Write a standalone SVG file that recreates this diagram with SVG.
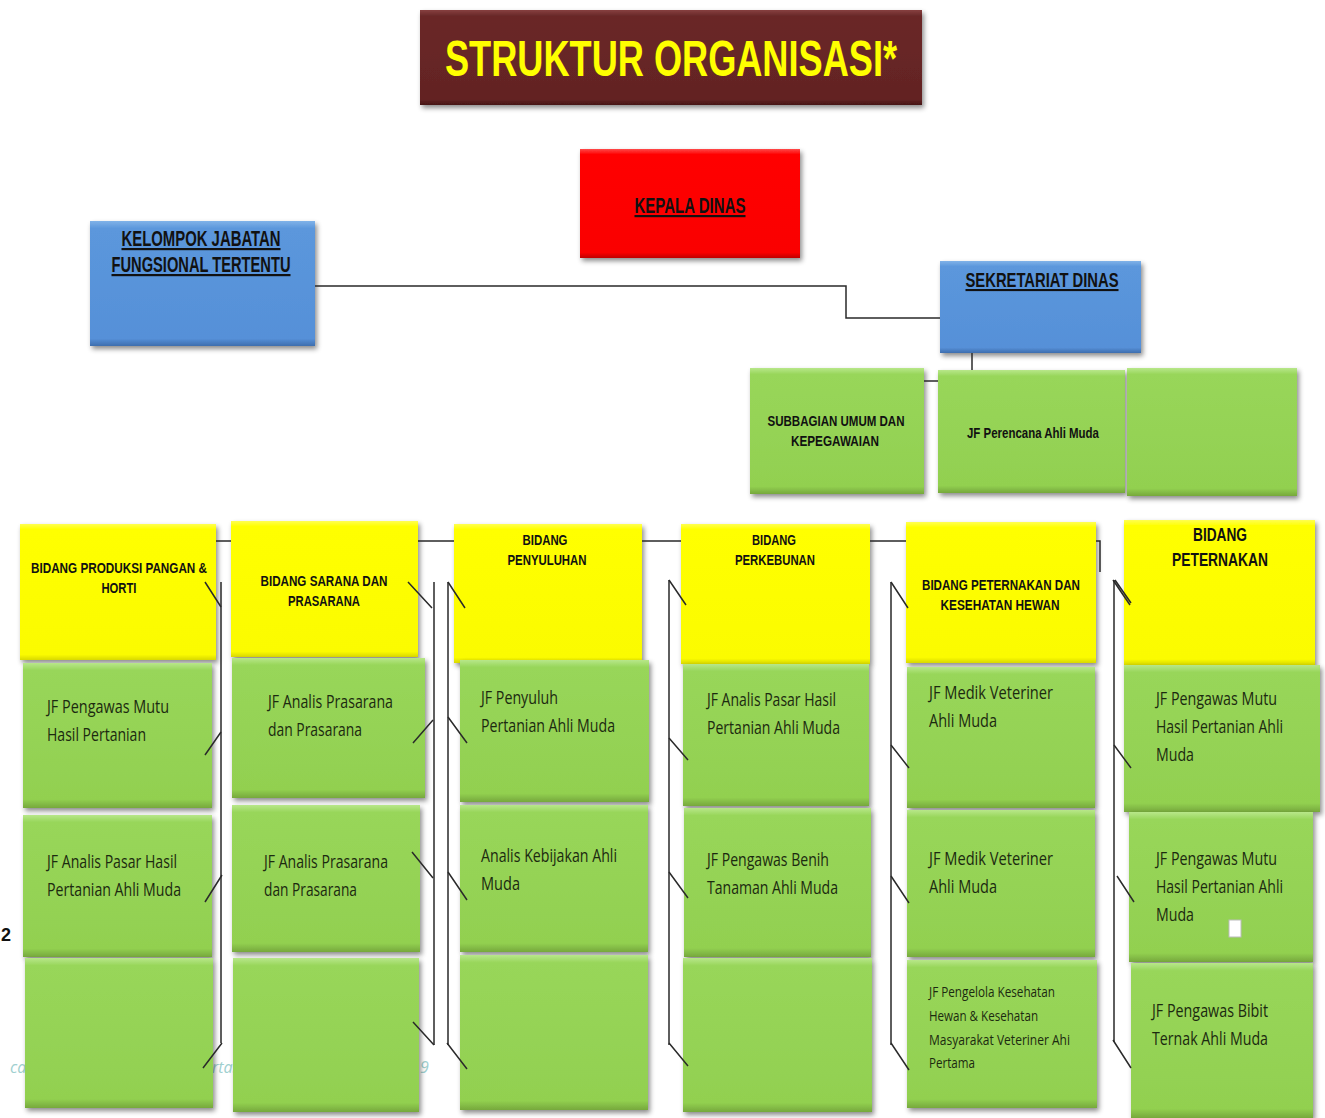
<svg xmlns="http://www.w3.org/2000/svg" width="1325" height="1118" viewBox="0 0 1325 1118">
<defs>
<filter id="sh" x="-10%" y="-10%" width="125%" height="125%">
<feDropShadow dx="2" dy="3" stdDeviation="2.5" flood-color="#000" flood-opacity="0.45"/>
</filter>
<linearGradient id="gG" x1="0" y1="0" x2="0" y2="1">
<stop offset="0" stop-color="#b8e78a"/><stop offset="0.05" stop-color="#98d65a"/><stop offset="0.94" stop-color="#92d050"/><stop offset="1" stop-color="#76a83c"/>
</linearGradient>
<linearGradient id="gY" x1="0" y1="0" x2="0" y2="1">
<stop offset="0" stop-color="#ffff50"/><stop offset="0.04" stop-color="#ffff00"/><stop offset="0.96" stop-color="#fbfb00"/><stop offset="1" stop-color="#d8d800"/>
</linearGradient>
<linearGradient id="gB" x1="0" y1="0" x2="0" y2="1">
<stop offset="0" stop-color="#80b2e8"/><stop offset="0.06" stop-color="#5b97dc"/><stop offset="0.94" stop-color="#5690d8"/><stop offset="1" stop-color="#3e6eae"/>
</linearGradient>
<linearGradient id="gR" x1="0" y1="0" x2="0" y2="1">
<stop offset="0" stop-color="#ff4a4a"/><stop offset="0.05" stop-color="#ff0000"/><stop offset="0.95" stop-color="#fa0000"/><stop offset="1" stop-color="#c00000"/>
</linearGradient>
<linearGradient id="gT" x1="0" y1="0" x2="0" y2="1">
<stop offset="0" stop-color="#874040"/><stop offset="0.06" stop-color="#6a2828"/><stop offset="0.94" stop-color="#632323"/><stop offset="1" stop-color="#451616"/>
</linearGradient>
<style>
.g{fill:url(#gG);filter:url(#sh)}
.y{fill:url(#gY);filter:url(#sh)}
.b{fill:url(#gB);filter:url(#sh)}
.r{fill:url(#gR);filter:url(#sh)}
.t{fill:url(#gT);filter:url(#sh)}
.hd{font-family:"Liberation Sans Narrow","Liberation Sans",Arial,sans-serif;font-weight:bold;fill:#111;text-anchor:middle}
.ul{text-decoration:underline}
.bt{font-family:"Open Sans","Liberation Sans",Arial,sans-serif;fill:#1c2a10;font-size:18px}
.sm{font-size:15px}
.cn{fill:none;stroke:#2a2a2a;stroke-width:1.5}
.tk{stroke:#2a2a2a;stroke-width:1.5}
.wm{font-family:"Open Sans","Liberation Sans",sans-serif;font-style:italic;font-size:16px;fill:#9fd0d0}
</style>
</defs>
<rect width="1325" height="1118" fill="#ffffff"/>

<g id="fragments">
<text class="wm" x="10" y="1073">ca</text>
<text class="wm" x="212" y="1073">rtas</text>
<text class="wm" x="420" y="1073">9</text>
<text x="1" y="941" font-family="Liberation Sans,Arial,sans-serif" font-weight="bold" font-size="18" fill="#111">2</text>
</g>

<g id="title">
<rect class="t" x="420" y="10" width="502" height="95"/>
<text x="671" y="76" font-family="Liberation Sans Narrow,Liberation Sans,Arial,sans-serif" font-weight="bold" font-size="50" fill="#ffff00" text-anchor="middle" textLength="452" lengthAdjust="spacingAndGlyphs">STRUKTUR ORGANISASI*</text>
</g>

<g id="kepala-dinas">
<rect class="r" x="580" y="149" width="220" height="109"/>
<text class="hd ul" x="690" y="213" font-size="22" textLength="111" lengthAdjust="spacingAndGlyphs">KEPALA DINAS</text>
</g>

<g id="kelompok-jabatan">
<rect class="b" x="90" y="221" width="225" height="125"/>
<text class="hd ul" x="201" y="246" font-size="22" textLength="159" lengthAdjust="spacingAndGlyphs">KELOMPOK JABATAN</text>
<text class="hd ul" x="201" y="272" font-size="22" textLength="179" lengthAdjust="spacingAndGlyphs">FUNGSIONAL TERTENTU</text>
</g>

<g id="sekretariat">
<rect class="b" x="940" y="261" width="201" height="92"/>
<text class="hd ul" x="1042" y="287" font-size="21" textLength="153" lengthAdjust="spacingAndGlyphs">SEKRETARIAT DINAS</text>
</g>

<g id="subbagian-umum">
<rect class="g" x="750" y="368" width="174" height="126"/>
<text class="hd" x="836" y="426" font-size="14" textLength="137" lengthAdjust="spacingAndGlyphs">SUBBAGIAN UMUM DAN</text>
<text class="hd" x="835" y="446" font-size="14" textLength="88" lengthAdjust="spacingAndGlyphs">KEPEGAWAIAN</text>
</g>
<g id="jf-perencana">
<rect class="g" x="938" y="370" width="187" height="123"/>
<text class="hd" x="1033" y="438" font-size="14" textLength="132" lengthAdjust="spacingAndGlyphs">JF Perencana Ahli Muda</text>
</g>
<g id="sekretariat-empty">
<rect class="g" x="1127" y="368" width="170" height="128"/>
</g>

<g id="bidang-produksi">
<rect class="y" x="20" y="524" width="196" height="136"/>
<text class="hd" x="119" y="573" font-size="14" textLength="176" lengthAdjust="spacingAndGlyphs">BIDANG PRODUKSI PANGAN &amp;</text>
<text class="hd" x="119" y="593" font-size="14" textLength="35" lengthAdjust="spacingAndGlyphs">HORTI</text>
</g>
<g id="c1-1">
<rect class="g" x="23" y="663" width="189" height="145"/>
<text class="bt" x="47" y="713" textLength="122" lengthAdjust="spacingAndGlyphs">JF Pengawas Mutu</text>
<text class="bt" x="47" y="741" textLength="99" lengthAdjust="spacingAndGlyphs">Hasil Pertanian</text>
</g>
<g id="c1-2">
<rect class="g" x="23" y="815" width="189" height="142"/>
<text class="bt" x="47" y="868" textLength="130" lengthAdjust="spacingAndGlyphs">JF Analis Pasar Hasil</text>
<text class="bt" x="47" y="896" textLength="134" lengthAdjust="spacingAndGlyphs">Pertanian Ahli Muda</text>
</g>
<g id="c1-3">
<rect class="g" x="25" y="958" width="188" height="150"/>
</g>

<g id="bidang-sarana">
<rect class="y" x="231" y="521" width="187" height="136"/>
<text class="hd" x="324" y="586" font-size="14" textLength="127" lengthAdjust="spacingAndGlyphs">BIDANG SARANA DAN</text>
<text class="hd" x="324" y="606" font-size="14" textLength="72" lengthAdjust="spacingAndGlyphs">PRASARANA</text>
</g>
<g id="c2-1">
<rect class="g" x="232" y="658" width="193" height="140"/>
<text class="bt" x="268" y="708" textLength="125" lengthAdjust="spacingAndGlyphs">JF Analis Prasarana</text>
<text class="bt" x="268" y="736" textLength="94" lengthAdjust="spacingAndGlyphs">dan Prasarana</text>
</g>
<g id="c2-2">
<rect class="g" x="232" y="805" width="188" height="147"/>
<text class="bt" x="264" y="868" textLength="124" lengthAdjust="spacingAndGlyphs">JF Analis Prasarana</text>
<text class="bt" x="264" y="896" textLength="93" lengthAdjust="spacingAndGlyphs">dan Prasarana</text>
</g>
<g id="c2-3">
<rect class="g" x="233" y="958" width="186" height="154"/>
</g>

<g id="bidang-penyuluhan">
<rect class="y" x="454" y="524" width="188" height="139"/>
<text class="hd" x="545" y="545" font-size="14" textLength="45" lengthAdjust="spacingAndGlyphs">BIDANG</text>
<text class="hd" x="547" y="565" font-size="14" textLength="79" lengthAdjust="spacingAndGlyphs">PENYULUHAN</text>
</g>
<g id="c3-1">
<rect class="g" x="460" y="660" width="189" height="142"/>
<text class="bt" x="481" y="704" textLength="77" lengthAdjust="spacingAndGlyphs">JF Penyuluh</text>
<text class="bt" x="481" y="732" textLength="134" lengthAdjust="spacingAndGlyphs">Pertanian Ahli Muda</text>
</g>
<g id="c3-2">
<rect class="g" x="460" y="805" width="188" height="147"/>
<text class="bt" x="481" y="862" textLength="136" lengthAdjust="spacingAndGlyphs">Analis Kebijakan Ahli</text>
<text class="bt" x="481" y="890" textLength="39" lengthAdjust="spacingAndGlyphs">Muda</text>
</g>
<g id="c3-3">
<rect class="g" x="460" y="955" width="188" height="155"/>
</g>

<g id="bidang-perkebunan">
<rect class="y" x="681" y="524" width="189" height="140"/>
<text class="hd" x="774" y="545" font-size="14" textLength="44" lengthAdjust="spacingAndGlyphs">BIDANG</text>
<text class="hd" x="775" y="565" font-size="14" textLength="80" lengthAdjust="spacingAndGlyphs">PERKEBUNAN</text>
</g>
<g id="c4-1">
<rect class="g" x="683" y="664" width="186" height="142"/>
<text class="bt" x="707" y="706" textLength="129" lengthAdjust="spacingAndGlyphs">JF Analis Pasar Hasil</text>
<text class="bt" x="707" y="734" textLength="133" lengthAdjust="spacingAndGlyphs">Pertanian Ahli Muda</text>
</g>
<g id="c4-2">
<rect class="g" x="684" y="808" width="187" height="149"/>
<text class="bt" x="707" y="866" textLength="122" lengthAdjust="spacingAndGlyphs">JF Pengawas Benih</text>
<text class="bt" x="707" y="894" textLength="131" lengthAdjust="spacingAndGlyphs">Tanaman Ahli Muda</text>
</g>
<g id="c4-3">
<rect class="g" x="683" y="958" width="189" height="154"/>
</g>

<g id="bidang-peternakan-kesehatan">
<rect class="y" x="906" y="522" width="190" height="141"/>
<text class="hd" x="1001" y="590" font-size="14" textLength="158" lengthAdjust="spacingAndGlyphs">BIDANG PETERNAKAN DAN</text>
<text class="hd" x="1000" y="610" font-size="14" textLength="119" lengthAdjust="spacingAndGlyphs">KESEHATAN HEWAN</text>
</g>
<g id="c5-1">
<rect class="g" x="907" y="667" width="188" height="141"/>
<text class="bt" x="929" y="699" textLength="124" lengthAdjust="spacingAndGlyphs">JF Medik Veteriner</text>
<text class="bt" x="929" y="727" textLength="68" lengthAdjust="spacingAndGlyphs">Ahli Muda</text>
</g>
<g id="c5-2">
<rect class="g" x="907" y="810" width="188" height="147"/>
<text class="bt" x="929" y="865" textLength="124" lengthAdjust="spacingAndGlyphs">JF Medik Veteriner</text>
<text class="bt" x="929" y="893" textLength="68" lengthAdjust="spacingAndGlyphs">Ahli Muda</text>
</g>
<g id="c5-3">
<rect class="g" x="907" y="960" width="190" height="148"/>
<text class="bt sm" x="929" y="997" textLength="126" lengthAdjust="spacingAndGlyphs">JF Pengelola Kesehatan</text>
<text class="bt sm" x="929" y="1021" textLength="109" lengthAdjust="spacingAndGlyphs">Hewan &amp; Kesehatan</text>
<text class="bt sm" x="929" y="1045" textLength="141" lengthAdjust="spacingAndGlyphs">Masyarakat Veteriner Ahi</text>
<text class="bt sm" x="929" y="1068" textLength="46" lengthAdjust="spacingAndGlyphs">Pertama</text>
</g>

<g id="bidang-peternakan">
<rect class="y" x="1124" y="520" width="191" height="145"/>
<text class="hd" x="1220" y="541" font-size="18" textLength="54" lengthAdjust="spacingAndGlyphs">BIDANG</text>
<text class="hd" x="1220" y="566" font-size="18" textLength="96" lengthAdjust="spacingAndGlyphs">PETERNAKAN</text>
</g>
<g id="c6-1">
<rect class="g" x="1124" y="665" width="196" height="147"/>
<text class="bt" x="1156" y="705" textLength="121" lengthAdjust="spacingAndGlyphs">JF Pengawas Mutu</text>
<text class="bt" x="1156" y="733" textLength="127" lengthAdjust="spacingAndGlyphs">Hasil Pertanian Ahli</text>
<text class="bt" x="1156" y="761" textLength="38" lengthAdjust="spacingAndGlyphs">Muda</text>
</g>
<g id="c6-2">
<rect class="g" x="1129" y="812" width="184" height="150"/>
<text class="bt" x="1156" y="865" textLength="121" lengthAdjust="spacingAndGlyphs">JF Pengawas Mutu</text>
<text class="bt" x="1156" y="893" textLength="127" lengthAdjust="spacingAndGlyphs">Hasil Pertanian Ahli</text>
<text class="bt" x="1156" y="921" textLength="38" lengthAdjust="spacingAndGlyphs">Muda</text>
<rect x="1229" y="920" width="12" height="17" fill="#ffffff" stroke="#bbbbbb" stroke-width="1"/>
</g>
<g id="c6-3">
<rect class="g" x="1131" y="963" width="182" height="155"/>
<text class="bt" x="1152" y="1017" textLength="116" lengthAdjust="spacingAndGlyphs">JF Pengawas Bibit</text>
<text class="bt" x="1152" y="1045" textLength="116" lengthAdjust="spacingAndGlyphs">Ternak Ahli Muda</text>
</g>

<g id="connectors">
<path class="cn" d="M315 286 H846 V318 H940"/>
<path class="cn" d="M972 353 V370"/>
<path class="cn" d="M924 381 H938"/>
<path class="cn" d="M216 541 H231 M418 541 H454 M642 541 H681 M870 541 H906 M1096 541 H1100 V572"/>
<path class="cn" d="M221 582 V1043 M434 582 V1045 M448 582 V1045 M669 580 V1045 M891 582 V1045 M1114 580 V1042"/>
<path class="tk" d="M205 582 L221 607 M205 755 L221 732 M205 902 L222 875 M203 1068 L222 1043
M408 582 L432 608 M413 743 L433 720 M412 852 L433 878 M413 1022 L434 1045
M448 582 L465 608 M448 717 L467 743 M448 872 L467 900 M447 1043 L467 1069
M669 580 L686 605 M669 738 L688 760 M669 872 L688 898 M669 1043 L688 1066
M891 582 L908 608 M891 745 L909 768 M891 876 L909 903 M891 1043 L909 1070
M1113 580 L1130 605 M1115 580 L1131 603 M1114 745 L1131 768 M1117 876 L1134 902 M1113 1040 L1131 1068"/>
</g>
</svg>
